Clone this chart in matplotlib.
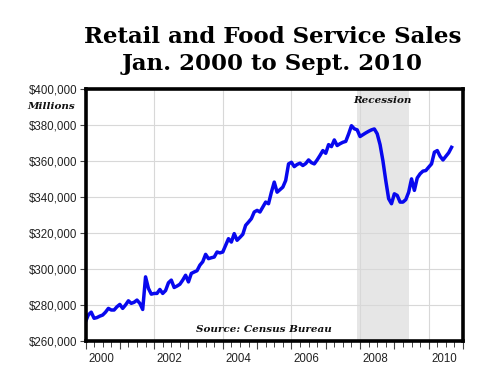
import numpy as np
import matplotlib
matplotlib.use("Agg")
import matplotlib.pyplot as plt
from matplotlib.ticker import FuncFormatter, MultipleLocator
import matplotlib.transforms as mtransforms

# monthly retail & food service sales, $ thousands of millions, Jan 2000 .. Sept 2010
sales_k = [
    270.7, 274.5, 276.0, 272.6, 273.0, 273.8, 274.4, 276.0, 278.1, 277.2, 277.2, 279.0,  # 2000
    280.3, 278.1, 280.0, 282.3, 280.9, 281.5, 282.7, 280.9, 277.5, 295.6, 289.2, 286.0,  # 2001
    286.4, 286.4, 288.6, 286.4, 288.0, 292.3, 293.8, 289.7, 290.5, 291.5, 293.8, 296.5,  # 2002
    292.8, 297.5, 298.3, 299.0, 302.1, 304.0, 308.1, 305.7, 306.2, 306.6, 309.4, 308.9,  # 2003
    309.4, 313.1, 316.8, 314.9, 319.6, 315.9, 317.5, 319.2, 324.2, 326.0, 327.9, 331.6,  # 2004
    332.5, 331.6, 334.3, 337.1, 336.2, 342.6, 348.2, 342.6, 344.0, 345.4, 349.1, 358.3,  # 2005
    359.2, 356.8, 358.0, 358.7, 357.4, 358.5, 360.5, 359.0, 358.3, 360.5, 363.0, 365.7,  # 2006
    364.2, 369.0, 367.9, 371.6, 368.5, 369.5, 370.3, 370.8, 374.9, 379.5, 377.8, 377.2,  # 2007
    373.5, 374.5, 375.5, 376.4, 377.2, 377.7, 375.0, 369.0, 360.0, 349.0, 339.0, 336.2,  # 2008
    341.7, 340.8, 337.1, 337.1, 338.5, 342.6, 350.0, 343.6, 350.5, 352.8, 354.3, 354.6,  # 2009
    356.5, 358.3, 364.8, 365.7, 362.5, 360.5, 362.5, 364.5, 367.5,                      # 2010
]
start_year = 2000
recession = (2007 + 11/12, 2009 + 5/12)   # Dec 2007 - June 2009
year_labels = [2000, 2002, 2004, 2006, 2008, 2010]
y_ticks = [260000, 280000, 300000, 320000, 340000, 360000, 380000, 400000]

sales = np.array(sales_k) * 1000
t = start_year + np.arange(len(sales)) / 12.0

serif = "DejaVu Serif"
sans = "Liberation Sans"

fig = plt.figure(figsize=(5.0, 3.86), dpi=100)
ax = fig.add_axes([0.171, 0.1166, 0.755, 0.6534])

ax.axvspan(*recession, color="#e6e6e6", lw=0, zorder=0)
ax.plot(t, sales, color="#0808ee", lw=2.5, zorder=3, solid_joinstyle="round")

ax.set_xlim(2000, 2011)
ax.set_ylim(260000, 400000)

# grid
for yv in y_ticks[1:-1]:
    ax.axhline(yv, color="#d8d8d8", lw=0.8, zorder=1)
for yr in year_labels[1:]:
    ax.axvline(yr, color="#d8d8d8", lw=0.8, zorder=1)

# y axis
ax.set_yticks(y_ticks)
ax.yaxis.set_major_formatter(FuncFormatter(lambda v, p: f"${v:,.0f}"))
ax.tick_params(axis="y", length=4, width=0.8, color="#444", pad=2,
               labelsize=8.3, labelcolor="#222")
for lab in ax.get_yticklabels():
    lab.set_family(sans)

# x axis: yearly major, quarterly minor, labels mid-year
ax.xaxis.set_major_locator(MultipleLocator(1))
ax.xaxis.set_minor_locator(MultipleLocator(0.25))
ax.set_xticklabels([])
ax.tick_params(axis="x", which="major", length=6, width=0.8, color="#444")
ax.tick_params(axis="x", which="minor", length=4, width=0.7, color="#444")
trans = mtransforms.blended_transform_factory(ax.transData, ax.transAxes)
for yr in year_labels:
    ax.text(yr + 0.45, -0.072, str(yr), transform=trans, ha="center", va="center",
            fontsize=8.3, family=sans, color="#222")

for s in ax.spines.values():
    s.set_linewidth(2.6)
    s.set_color("black")
    s.set_zorder(5)

# annotations
ax.text(sum(recession) / 2, 0.97, "Recession", transform=trans, ha="center", va="top",
        fontsize=7.5, family=serif, style="italic", weight="bold", color="#111")
ax.text(2005.2, 266300, "Source: Census Bureau", ha="center", va="center",
        fontsize=7.5, family=serif, style="italic", weight="bold", color="#111")
fig.text(0.103, 0.725, "Millions", ha="center", va="center",
         fontsize=7.5, family=serif, style="italic", weight="bold", color="#111")

fig.text(0.545, 0.904, "Retail and Food Service Sales", ha="center", va="center",
         fontsize=16.5, family=serif, weight="bold")
fig.text(0.545, 0.835, "Jan. 2000 to Sept. 2010", ha="center", va="center",
         fontsize=16.5, family=serif, weight="bold")

fig.savefig("out.png", dpi=100)
